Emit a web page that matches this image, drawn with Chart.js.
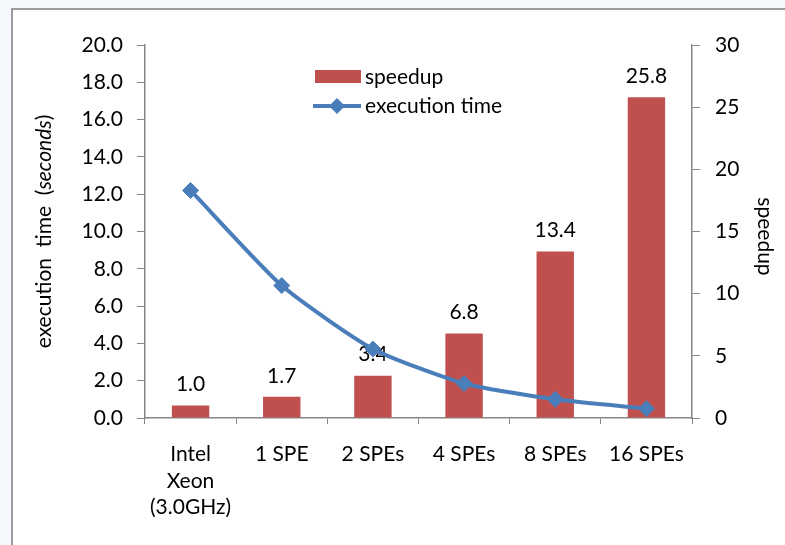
<!DOCTYPE html>
<html><head><meta charset="utf-8">
<script src="https://cdn.jsdelivr.net/npm/chart.js@4.4.1/dist/chart.umd.min.js"></script>
<style>
html,body{margin:0;padding:0;width:785px;height:545px;overflow:hidden;background:#f4f7fc;}
#frame{position:absolute;left:11px;top:8px;width:800px;height:560px;background:#fff;border-left:2px solid #9c9c9c;border-top:2px solid #9c9c9c;}
#c{position:absolute;left:0;top:0;}
</style></head>
<body>
<div id="frame"></div>
<canvas id="c" width="785" height="545"></canvas>
<script>
// ---- data ----
const categories = [['Intel', 'Xeon', '(3.0GHz)'], '1 SPE', '2 SPEs', '4 SPEs', '8 SPEs', '16 SPEs'];
const speedup = [1.0, 1.7, 3.4, 6.8, 13.4, 25.8];
const executionTime = [12.2, 7.1, 3.7, 1.85, 1.0, 0.5];
const seriesNames = ['speedup', 'execution time'];
const leftAxisTitle = ['execution  time  (', 'seconds', ')'];
const rightAxisTitle = 'speedup';
const leftAxisRange = [0, 20, 2];
const rightAxisRange = [0, 30, 5];

// ---- styles ----
const FONT = 'Lato';
const FS = 21;
const RED = '#C0504D';
const BLUE = '#4A7EBB';
const AXIS = '#868686';
Chart.defaults.font.family = FONT;
Chart.defaults.font.size = FS;
Chart.defaults.color = '#000';

const barLabels = {
  id: 'barLabels',
  afterDatasetDraw(chart, args) {
    if (args.meta.type !== 'bar') return;
    const ctx = chart.ctx;
    ctx.save();
    ctx.font = FS + 'px ' + FONT;
    ctx.fillStyle = '#000';
    ctx.textAlign = 'center';
    ctx.textBaseline = 'middle';
    args.meta.data.forEach((el, i) => {
      ctx.fillText(speedup[i].toFixed(1), el.x, el.y - 21);
    });
    ctx.restore();
  }
};

const decorations = {
  id: 'decorations',
  afterDraw(chart) {
    const ctx = chart.ctx;
    const ca = chart.chartArea;
    ctx.save();
    // left axis title (mixed styles)
    const cy = (ca.top + ca.bottom) / 2;
    ctx.translate(44, cy);
    ctx.rotate(-Math.PI / 2);
    ctx.textBaseline = 'middle';
    ctx.textAlign = 'left';
    ctx.fillStyle = '#000';
    const fonts = [FS + 'px ' + FONT, 'italic ' + FS + 'px ' + FONT, FS + 'px ' + FONT];
    let total = 0;
    const widths = leftAxisTitle.map((t, i) => { ctx.font = fonts[i]; const w = ctx.measureText(t).width; total += w; return w; });
    let x = -total / 2;
    leftAxisTitle.forEach((t, i) => { ctx.font = fonts[i]; ctx.fillText(t, x, 0); x += widths[i]; });
    ctx.restore();

    // right axis title
    ctx.save();
    ctx.translate(765, cy + 5);
    ctx.rotate(Math.PI / 2);
    ctx.font = FS + 'px ' + FONT;
    ctx.textAlign = 'center';
    ctx.textBaseline = 'middle';
    ctx.fillStyle = '#000';
    ctx.fillText(rightAxisTitle, 0, 0);
    ctx.restore();

    // legend
    ctx.save();
    ctx.fillStyle = RED;
    ctx.fillRect(315, 70, 46, 13);
    ctx.strokeStyle = BLUE;
    ctx.lineWidth = 4;
    ctx.beginPath(); ctx.moveTo(313, 106); ctx.lineTo(361, 106); ctx.stroke();
    ctx.fillStyle = BLUE;
    ctx.beginPath();
    ctx.moveTo(337, 98); ctx.lineTo(345, 106); ctx.lineTo(337, 114); ctx.lineTo(329, 106); ctx.closePath();
    ctx.fill();
    ctx.fillStyle = '#000';
    ctx.font = FS + 'px ' + FONT;
    ctx.textAlign = 'left';
    ctx.textBaseline = 'middle';
    ctx.fillText(seriesNames[0], 365, 77);
    ctx.fillText(seriesNames[1], 365, 106);
    ctx.restore();
  }
};

new Chart(document.getElementById('c'), {
  data: {
    labels: categories,
    datasets: [
      {
        type: 'line',
        label: seriesNames[1],
        data: executionTime,
        yAxisID: 'y',
        borderColor: BLUE,
        backgroundColor: BLUE,
        borderWidth: 4,
        tension: 0.2,
        pointStyle: 'rectRot',
        pointRadius: 8,
        pointBorderWidth: 1,
        pointBackgroundColor: BLUE,
        pointBorderColor: BLUE,
        order: 0
      },
      {
        type: 'bar',
        label: seriesNames[0],
        data: speedup,
        yAxisID: 'y1',
        backgroundColor: RED,
        barPercentage: 0.41,
        categoryPercentage: 1,
        order: 1
      }
    ]
  },
  options: {
    responsive: false,
    animation: false,
    layout: { padding: { left: 0, right: 0, top: 45, bottom: 0 } },
    plugins: { legend: { display: false }, tooltip: { enabled: false } },
    scales: {
      x: {
        offset: true,
        grid: { offset: true, drawOnChartArea: false, tickLength: 6, color: AXIS },
        border: { color: AXIS, width: 1.5 },
        ticks: { padding: 17, maxRotation: 0, autoSkip: false, font: { size: FS, lineHeight: 1.27 } },
        afterFit(s) { s.height = 127; }
      },
      y: {
        position: 'left',
        min: leftAxisRange[0], max: leftAxisRange[1],
        grid: { drawOnChartArea: false, tickLength: 8, color: AXIS },
        border: { color: AXIS, width: 1.5 },
        ticks: { stepSize: leftAxisRange[2], padding: 14, callback: v => v.toFixed(1) },
        afterFit(s) { s.width = 145; }
      },
      y1: {
        position: 'right',
        min: rightAxisRange[0], max: rightAxisRange[1],
        grid: { drawOnChartArea: false, tickLength: 8, color: AXIS },
        border: { color: AXIS, width: 1.5 },
        ticks: { stepSize: rightAxisRange[2], padding: 15 },
        afterFit(s) { s.width = 93; }
      }
    }
  },
  plugins: [barLabels, decorations]
});
</script>
</body></html>
